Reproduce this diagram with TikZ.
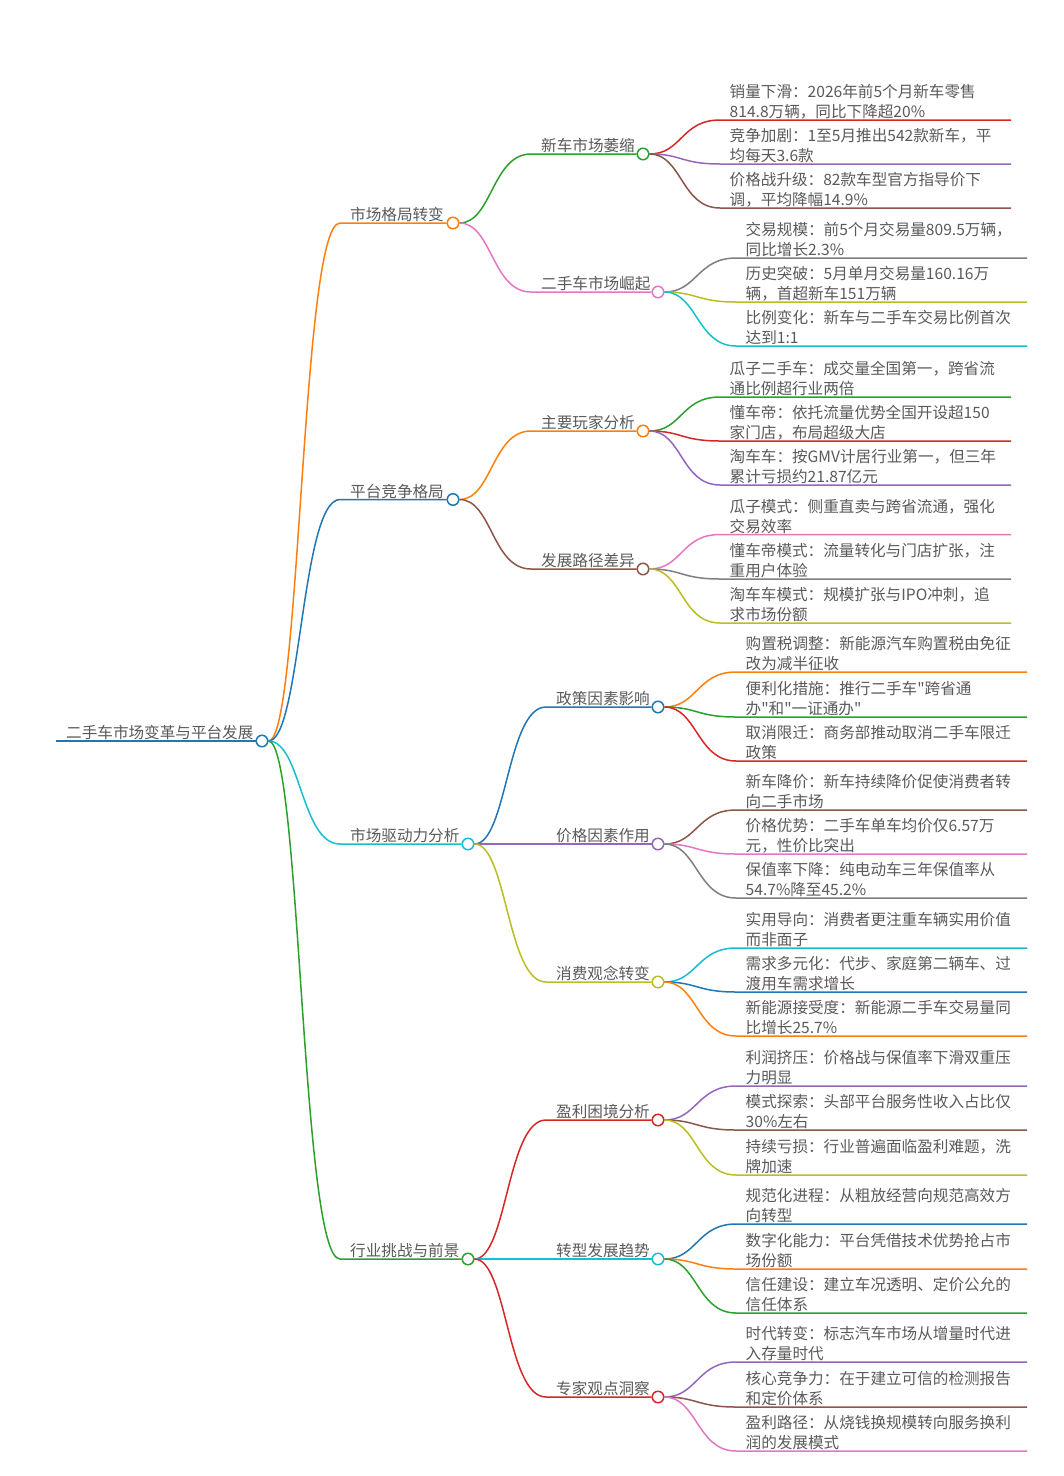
\documentclass[tikz,border=0pt]{standalone}
\usepackage{fontspec}
\setmainfont{Noto Sans CJK SC}[Ligatures=TeXOff]
\usetikzlibrary{calc}
\definecolor{mblue}{HTML}{1F77B4}
\definecolor{morange}{HTML}{FF7F0E}
\definecolor{mgreen}{HTML}{2CA02C}
\definecolor{mred}{HTML}{D62728}
\definecolor{mpurple}{HTML}{9467BD}
\definecolor{mbrown}{HTML}{8C564B}
\definecolor{mpink}{HTML}{E377C2}
\definecolor{mgray}{HTML}{7F7F7F}
\definecolor{molive}{HTML}{BCBD22}
\definecolor{mcyan}{HTML}{17BECF}
\definecolor{txt}{HTML}{5A5A5A}
\tikzset{
  link/.style={line width=1.5pt},
  dot/.style={circle, draw, fill=white, line width=1.5pt, minimum size=11.5pt, inner sep=0pt},
  lbl/.style={font=\fontsize{15.6pt}{20pt}\selectfont, text=txt, inner sep=0pt, align=left, text depth=0pt, anchor=south west},
}
% name, parent, colour, line start x, circle x, y, text
\newcommand\mmnode[7]{%
  \coordinate (#1s) at (#4,#6);
  \node[dot,draw=#3] (#1) at (#5,#6) {};
  \draw[link,#3] (#2) .. controls +(39,0) and +(-39,0) .. (#1s) -- (#1);
  \node[lbl] (#1t) at ($(#1s)+(10,-2)$) {#7};
}
% name, parent, colour, line start x, line end x, y, text
\newcommand\mmleaf[7]{%
  \coordinate (#1s) at (#4,#6);
  \coordinate (#1e) at (#5,#6);
  \draw[link,#3] (#2) .. controls +(39,0) and +(-39,0) .. (#1s) -- (#1e);
  \node[lbl] (#1t) at ($(#1s)+(9.5,-2)$) {#7};
}
\begin{document}
\begin{tikzpicture}[x=1pt,y=-1pt]
\useasboundingbox (0,0) rectangle (1064,1476);
\fill[white] (0,0) rectangle (1064,1476);
% root
\coordinate (roots) at (56,741);
\node[dot,draw=mblue] (root) at (262,741) {};
\draw[link,mblue] (roots) -- (root);
\node[lbl] (roott) at ($(roots)+(10,-2)$) {二手车市场变革与平台发展};
% level 1
\mmnode{A}{root}{morange}{340}{453}{223}{市场格局转变}
\mmnode{B}{root}{mblue}{340}{453}{499.5}{平台竞争格局}
\mmnode{C}{root}{mcyan}{340}{468}{844}{市场驱动力分析}
\mmnode{D}{root}{mgreen}{340}{468}{1259}{行业挑战与前景}
% level 2
\mmnode{Aa}{A}{mgreen}{531}{643}{154}{新车市场萎缩}
\mmnode{Ab}{A}{mpink}{531}{658}{292}{二手车市场崛起}
\mmnode{Ba}{B}{morange}{531}{643}{431}{主要玩家分析}
\mmnode{Bb}{B}{mbrown}{531}{643}{569}{发展路径差异}
\mmnode{Ca}{C}{mblue}{546}{658}{707}{政策因素影响}
\mmnode{Cb}{C}{mpurple}{546}{658}{844}{价格因素作用}
\mmnode{Cc}{C}{molive}{546}{658}{982}{消费观念转变}
\mmnode{Da}{D}{mred}{546}{658}{1120}{盈利困境分析}
\mmnode{Db}{D}{mcyan}{546}{658}{1259}{转型发展趋势}
\mmnode{Dc}{D}{mred}{546}{658}{1397}{专家观点洞察}
% leaves
\mmleaf{Aa1}{Aa}{mred}{720}{1011}{120}{销量下滑：2026年前5个月新车零售\\814.8万辆，同比下降超20\%}
\mmleaf{Aa2}{Aa}{mpurple}{720}{1011}{164}{竞争加剧：1至5月推出542款新车，平\\均每天3.6款}
\mmleaf{Aa3}{Aa}{mbrown}{720}{1011}{208}{价格战升级：82款车型官方指导价下\\调，平均降幅14.9\%}
\mmleaf{Ab1}{Ab}{mgray}{736}{1027}{258}{交易规模：前5个月交易量809.5万辆，\\同比增长2.3\%}
\mmleaf{Ab2}{Ab}{molive}{736}{1027}{302}{历史突破：5月单月交易量160.16万\\辆，首超新车151万辆}
\mmleaf{Ab3}{Ab}{mcyan}{736}{1027}{346}{比例变化：新车与二手车交易比例首次\\达到1:1}
\mmleaf{Ba1}{Ba}{mgreen}{720}{1011}{397}{瓜子二手车：成交量全国第一，跨省流\\通比例超行业两倍}
\mmleaf{Ba2}{Ba}{mred}{720}{1011}{441}{懂车帝：依托流量优势全国开设超150\\家门店，布局超级大店}
\mmleaf{Ba3}{Ba}{mpurple}{720}{1011}{485}{淘车车：按GMV计居行业第一，但三年\\累计亏损约21.87亿元}
\mmleaf{Bb1}{Bb}{mpink}{720}{1011}{534.5}{瓜子模式：侧重直卖与跨省流通，强化\\交易效率}
\mmleaf{Bb2}{Bb}{mgray}{720}{1011}{579}{懂车帝模式：流量转化与门店扩张，注\\重用户体验}
\mmleaf{Bb3}{Bb}{molive}{720}{1011}{623}{淘车车模式：规模扩张与IPO冲刺，追\\求市场份额}
\mmleaf{Ca1}{Ca}{morange}{736}{1027}{672}{购置税调整：新能源汽车购置税由免征\\改为减半征收}
\mmleaf{Ca2}{Ca}{mgreen}{736}{1027}{717}{便利化措施：推行二手车"跨省通\\办"和"一证通办"}
\mmleaf{Ca3}{Ca}{mred}{736}{1027}{761}{取消限迁：商务部推动取消二手车限迁\\政策}
\mmleaf{Cb1}{Cb}{mbrown}{736}{1027}{810}{新车降价：新车持续降价促使消费者转\\向二手市场}
\mmleaf{Cb2}{Cb}{mpink}{736}{1027}{854}{价格优势：二手车单车均价仅6.57万\\元，性价比突出}
\mmleaf{Cb3}{Cb}{mgray}{736}{1027}{898}{保值率下降：纯电动车三年保值率从\\54.7\%降至45.2\%}
\mmleaf{Cc1}{Cc}{mcyan}{736}{1027}{948}{实用导向：消费者更注重车辆实用价值\\而非面子}
\mmleaf{Cc2}{Cc}{mblue}{736}{1027}{992}{需求多元化：代步、家庭第二辆车、过\\渡用车需求增长}
\mmleaf{Cc3}{Cc}{morange}{736}{1027}{1036}{新能源接受度：新能源二手车交易量同\\比增长25.7\%}
\mmleaf{Da1}{Da}{mpurple}{736}{1027}{1086}{利润挤压：价格战与保值率下滑双重压\\力明显}
\mmleaf{Da2}{Da}{mbrown}{736}{1027}{1130}{模式探索：头部平台服务性收入占比仅\\30\%左右}
\mmleaf{Da3}{Da}{molive}{736}{1027}{1175}{持续亏损：行业普遍面临盈利难题，洗\\牌加速}
\mmleaf{Db1}{Db}{mblue}{736}{1027}{1224}{规范化进程：从粗放经营向规范高效方\\向转型}
\mmleaf{Db2}{Db}{morange}{736}{1027}{1269}{数字化能力：平台凭借技术优势抢占市\\场份额}
\mmleaf{Db3}{Db}{mgreen}{736}{1027}{1313}{信任建设：建立车况透明、定价公允的\\信任体系}
\mmleaf{Dc1}{Dc}{mpurple}{736}{1027}{1362}{时代转变：标志汽车市场从增量时代进\\入存量时代}
\mmleaf{Dc2}{Dc}{mbrown}{736}{1027}{1407}{核心竞争力：在于建立可信的检测报告\\和定价体系}
\mmleaf{Dc3}{Dc}{mpink}{736}{1027}{1451}{盈利路径：从烧钱换规模转向服务换利\\润的发展模式}
\end{tikzpicture}
\end{document}
